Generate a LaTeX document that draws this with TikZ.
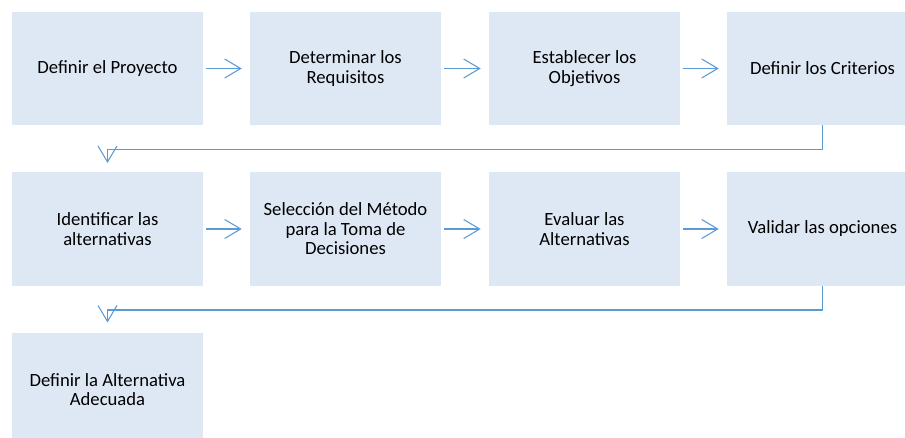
\documentclass[tikz,border=0pt]{standalone}
\usepackage{fontspec}
\setmainfont{Carlito}
\usetikzlibrary{arrows.meta}

\definecolor{pasofill}{HTML}{DEE8F5}
\definecolor{flecha}{HTML}{5B9BD5}

\tikzset{
  paso/.style={rectangle, fill=pasofill, inner sep=0pt,
               minimum width=143.25pt, minimum height=85.1pt,
               align=center, font=\fontsize{14pt}{14.6pt}\selectfont},
  flujo/.style={draw=flecha, line width=0.8pt,
               -{Straight Barb[length=12pt, width=14.25pt, line width=0.8pt]}}
}

\begin{document}
\begin{tikzpicture}[x=0.75pt, y=-0.75pt]
            \clip (0,0) rectangle (905,438);
            % first row
            \node[paso] (proyecto)   at (107.5,68.5) {Definir el Proyecto};
            \node[paso] (requisitos) at (345.5,68.5) {Determinar los\\Requisitos};
            \node[paso] (objetivos)  at (584.5,68.5) {Establecer los\\Objetivos};
            \node[paso] (criterios)  at (822.5,68.5) {Definir los Criterios};
            % second row
            \node[paso] (alternativas) at (107.5,229) {Identificar las\\alternativas};
            \node[paso] (metodo)       at (345.5,229) {Selecci\'on del M\'etodo\\para la Toma de\\Decisiones};
            \node[paso] (evaluar)      at (584.5,229) {Evaluar las\\Alternativas};
            \node[paso] (validar)      at (822.5,229) {Validar las opciones};
            % last row
            \node[paso] (adecuada) at (107.5,389.5) {Definir la Alternativa\\Adecuada};

            % arrows between steps
            \draw[flujo, shorten <=2.25pt, shorten >=6pt] (proyecto) -- (requisitos);
            \draw[flujo, shorten <=2.25pt, shorten >=6pt] (requisitos) -- (objetivos);
            \draw[flujo, shorten <=2.25pt, shorten >=6pt] (objetivos) -- (criterios);
            \draw[flujo, shorten <=2.25pt, shorten >=6pt] (alternativas) -- (metodo);
            \draw[flujo, shorten <=2.25pt, shorten >=6pt] (metodo) -- (evaluar);
            \draw[flujo, shorten <=2.25pt, shorten >=6pt] (evaluar) -- (validar);
            \draw[flujo, shorten >=6.75pt] (criterios.south) -- ++(0,24) -| (alternativas.north);
            \draw[flujo, shorten >=7.5pt] (validar.south) -- ++(0,24) -| (adecuada.north);
        \end{tikzpicture}
\end{document}
